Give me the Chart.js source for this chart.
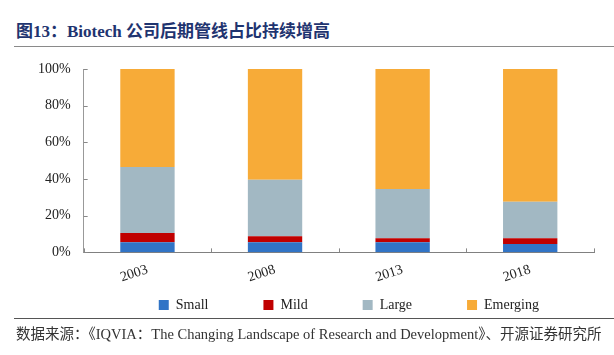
<!DOCTYPE html>
<html>
<head>
<meta charset="utf-8">
<script src="https://cdn.jsdelivr.net/npm/chart.js@4/dist/chart.umd.min.js"></script>
<style>
  html, body { margin: 0; padding: 0; background: #fff; width: 614px; height: 355px; overflow: hidden; }
  #title { position: absolute; left: 16px; top: 17px; font: bold 17px "Liberation Serif", "Noto Sans CJK SC", serif; color: #1f3470; white-space: nowrap; }
  #line1 { position: absolute; left: 14px; top: 46px; width: 600px; height: 0; border-top: 1.5px solid #8a8a8a; }
  #line2 { position: absolute; left: 14px; top: 317.5px; width: 600px; height: 0; border-top: 1.5px solid #555; }
  #source { position: absolute; left: 16px; top: 322px; font: 14.5px "Liberation Serif", "Noto Sans CJK SC", serif; color: #333; white-space: nowrap; }
  #c { position: absolute; left: 0; top: 0; }
</style>
</head>
<body>
<div id="title">图13：Biotech 公司后期管线占比持续增高</div>
<div id="line1"></div>
<canvas id="c" width="614" height="355"></canvas>
<div id="line2"></div>
<div id="source">数据来源：《IQVIA：The Changing Landscape of Research and Development》、开源证券研究所</div>
<script>
const categories = ['2003', '2008', '2013', '2018'];
const seriesNames = ['Small', 'Mild', 'Large', 'Emerging'];
const small = [5.5, 5.5, 5.5, 4.6];
const mild = [5.1, 3.3, 2.2, 3.1];
const large = [35.9, 30.8, 26.8, 19.9];
const emerging = [53.5, 60.4, 65.5, 72.4];
const yTickValues = [0, 20, 40, 60, 80, 100];
const colors = ['#3174c6', '#c00000', '#a2b8c3', '#f7ab38'];

const seriesData = [small, mild, large, emerging];
const FONT = '"Liberation Serif", "Times New Roman", serif';

const innerTicks = {
  id: 'innerTicks',
  afterDraw(chart) {
    const ctx = chart.ctx;
    const x = chart.scales.x, y = chart.scales.y;
    const a = chart.chartArea;
    ctx.save();
    ctx.strokeStyle = '#888';
    ctx.lineWidth = 1;
    ctx.beginPath();
    yTickValues.forEach(v => {
      const py = Math.round(y.getPixelForValue(v)) + 0.5;
      ctx.moveTo(a.left, py);
      ctx.lineTo(a.left + 4, py);
    });
    for (let i = 0; i <= categories.length; i++) {
      const px = Math.round(x.getPixelForValue(i - 0.5)) + 0.5;
      ctx.moveTo(px, a.bottom);
      ctx.lineTo(px, a.bottom - 4);
    }
    ctx.stroke();
    ctx.restore();
  }
};

new Chart(document.getElementById('c'), {
  type: 'bar',
  data: {
    labels: categories,
    datasets: seriesNames.map((n, i) => ({
      label: n,
      data: seriesData[i],
      backgroundColor: colors[i],
      borderWidth: 0,
      barPercentage: 0.426,
      categoryPercentage: 1.0
    }))
  },
  options: {
    responsive: false,
    devicePixelRatio: 1,
    animation: false,
    layout: { padding: { left: 25, right: 20, top: 69, bottom: 33 } },
    scales: {
      x: {
        stacked: true,
        grid: { display: false, drawTicks: false },
        border: { display: true, color: '#808080', width: 1 },
        ticks: { font: { family: FONT, size: 14 }, color: '#222', maxRotation: 18, minRotation: 18, padding: 9 }
      },
      y: {
        stacked: true,
        min: 0, max: 100,
        afterBuildTicks: s => { s.ticks = yTickValues.map(v => ({ value: v })); },
        grid: { display: false, drawTicks: false },
        border: { display: true, color: '#999', width: 1 },
        ticks: { font: { family: FONT, size: 14 }, color: '#222', padding: 13, callback: v => v + '%' }
      }
    },
    plugins: {
      tooltip: { enabled: false },
      legend: {
        position: 'bottom',
        align: 'end',
        title: { display: true, text: '', font: { size: 12 }, padding: { top: -66.4, bottom: 0 } },
        labels: { boxWidth: 10, boxHeight: 10, padding: 55, font: { family: FONT, size: 14 }, color: '#222' }
      }
    }
  },
  plugins: [innerTicks]
});
</script>
</body>
</html>
